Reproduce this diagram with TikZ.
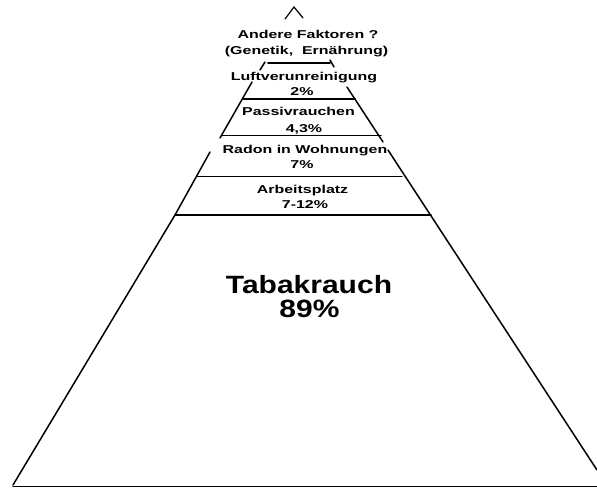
\documentclass[tikz,border=0pt]{standalone}
\usepackage{fontspec}
\newfontfamily\pyrfont[FakeStretch=1.4]{Liberation Sans}
\newfontfamily\bigpyrfont[FakeStretch=1.2]{Liberation Sans}
\usetikzlibrary{positioning}

\begin{document}
\begin{tikzpicture}[x=1pt, y=-1pt]
		\tikzstyle{Label} = [inner sep=0pt, anchor=base, font=\pyrfont\bfseries\fontsize{11.4}{12}\selectfont]
		\tikzstyle{BigLabel} = [inner sep=0pt, anchor=base, font=\bigpyrfont\bfseries\fontsize{25}{26}\selectfont]
		\tikzstyle{edge} = [line width=1.5pt, black, line cap=round]
		
		\useasboundingbox (0,0) rectangle (597,488);
		
		% apex
		\draw [edge, line width=1.2pt] (285,19) -- (294,7) -- (303,18);
		
		% left side
		\draw [edge] (260,70) -- (265,62);
		\draw [edge] (252,82) -- (220,138);
		\draw [edge] (210,152) -- (175,215) -- (13,485);
		% right side
		\draw [edge] (330,60) -- (334,67);
		\draw [edge] (347,87) -- (383,142);
		\draw [edge] (388,150) -- (597,470);
		
		% levels
		\draw [edge, line width=2pt] (268,63) -- (330,63);
		\draw [edge] (243,99) -- (355,99);
		\draw [edge] (222,135.5) -- (381,135.5);
		\draw [edge] (197,176.5) -- (402,176.5);
		\draw [edge, line width=1.8pt] (175,215) -- (431,215);
		\draw [edge] (13,486.5) -- (597,486.5);
		
		\node (andereNode) [Label] at (308,38) {Andere Faktoren ?};
		\node (genetikNode) [Label] at (306.5,54) {(Genetik,\ \ Ernährung)};
		\node (luftNode) [Label] at (304,80) {Luftverunreinigung};
		\node (luftPct) [Label] at (302,95) {2\%};
		\node (passivNode) [Label] at (298.5,115) {Passivrauchen};
		\node (passivPct) [Label] at (304,132) {4,3\%};
		\node (radonNode) [Label] at (305,153) {Radon in Wohnungen};
		\node (radonPct) [Label] at (302,168) {7\%};
		\node (arbeitNode) [Label] at (302.5,193) {Arbeitsplatz};
		\node (arbeitPct) [Label] at (305,208) {7-12\%};
		\node (tabakNode) [BigLabel] at (309,293) {Tabakrauch};
		\node (tabakPct) [BigLabel] at (309.5,317) {89\%};
\end{tikzpicture}
\end{document}
